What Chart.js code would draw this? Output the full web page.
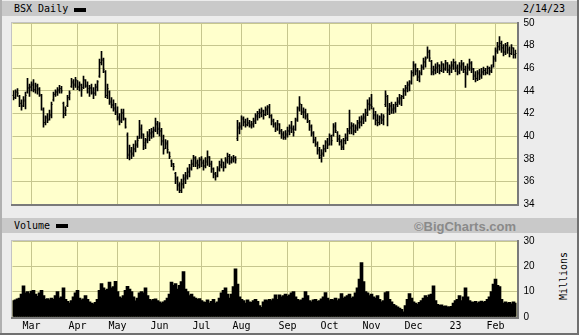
<!DOCTYPE html>
<html><head><meta charset="utf-8">
<script src="https://cdn.jsdelivr.net/npm/chart.js@4/dist/chart.umd.min.js"></script>
<style>
html,body{margin:0;padding:0;background:#fff;}
#frame{position:absolute;left:0;top:0;width:579px;height:335px;background:#ececec;overflow:hidden;}
#edgeL{position:absolute;left:0;top:0;width:2px;height:335px;background:#b0b0b0;}
#edgeR{position:absolute;left:577px;top:0;width:2px;height:335px;background:#707070;}
#edgeB{position:absolute;left:0;top:333px;width:579px;height:2px;background:#707070;}
.band{position:absolute;left:2px;width:575px;height:15px;background:#c9c9c9;}
.mono{font-family:"DejaVu Sans Mono","Liberation Mono",monospace;font-size:10px;color:#000;position:absolute;white-space:nowrap;}
.sw{position:absolute;width:12px;height:4px;background:#000;}
#bc{position:absolute;right:63px;top:219px;font-family:"Liberation Sans",Arial,sans-serif;font-weight:bold;font-size:13px;color:#8a8a8a;}
#mil{position:absolute;left:563px;top:276px;transform:translate(-50%,-50%) rotate(-90deg);}
canvas{position:absolute;}
</style></head>
<body>
<div id="frame">
  <div class="band" style="top:1px;"></div>
  <div class="mono" style="left:14px;top:3px;">BSX Daily</div>
  <div class="sw" style="left:74px;top:8px;"></div>
  <div class="mono" style="left:523px;top:3px;">2/14/23</div>
  <div class="band" style="top:218px;"></div>
  <div class="mono" style="left:14px;top:220px;">Volume</div>
  <div class="sw" style="left:56px;top:224px;"></div>
  <div id="bc">©BigCharts.com</div>
  <div class="mono" id="mil">Millions</div>
  <div id="priceWrap" style="position:absolute;left:0;top:10px;width:579px;height:207px;"><canvas id="price"></canvas></div>
  <div id="volWrap" style="position:absolute;left:0;top:228px;width:579px;height:105px;"><canvas id="vol"></canvas></div>
  <div id="edgeL"></div><div id="edgeR"></div><div id="edgeB"></div>
</div>
<script>
// ---- calendar (NYSE trading days 2/14/22 .. 2/14/23) ----
const holidays = ['2022-02-21','2022-04-15','2022-05-30','2022-06-20','2022-07-04','2022-09-05','2022-11-24','2022-12-26','2023-01-02','2023-01-16'];
const monthTickLabels = ['Mar','Apr','May','Jun','Jul','Aug','Sep','Oct','Nov','Dec','23','Feb'];
const priceTicks = [34,36,38,40,42,44,46,48,50];
const volumeTicks = [0,10,20,30];

// ---- price data (USD) ----
const high = [44.0,44.1,44.2,43.6,43.2,43.5,43.9,45.1,44.6,44.8,45.0,44.7,44.6,44.3,43.7,42.5,41.8,42.0,42.3,43.0,
43.9,44.1,44.3,44.5,44.4,43.0,42.6,43.6,44.0,45.1,45.0,45.2,44.9,44.8,44.6,45.3,45.0,44.8,44.5,44.6,
44.3,44.6,44.9,46.8,47.5,46.9,45.8,44.6,44.0,43.4,43.2,42.9,42.6,42.0,42.4,42.4,41.6,40.3,39.2,39.0,
39.3,39.6,40.0,41.4,41.0,40.2,39.8,40.4,40.6,40.7,40.8,41.6,41.3,41.2,40.7,40.1,39.7,39.6,38.6,37.9,
37.6,36.8,36.4,35.9,36.2,36.6,36.8,37.2,37.5,37.9,38.3,38.2,37.9,38.1,38.2,37.9,38.1,38.7,38.2,37.8,
37.2,36.8,37.3,37.8,38.0,37.7,38.1,38.5,38.4,38.2,38.3,38.2,41.4,41.2,41.8,41.7,41.5,41.6,41.4,41.3,
41.6,42.0,42.2,42.4,42.5,42.3,42.6,42.7,42.8,41.9,41.5,41.2,41.4,41.1,40.6,40.4,40.5,40.8,41.0,41.3,
40.9,41.6,42.6,43.5,42.8,42.5,42.4,42.0,41.4,41.0,40.4,39.9,39.5,39.0,38.8,39.2,39.6,39.8,40.2,40.1,
41.1,41.2,40.4,40.1,39.7,39.8,40.2,40.7,42.3,41.2,41.1,41.0,41.4,41.7,41.8,42.0,42.4,43.2,43.4,43.7,
42.5,42.2,41.9,41.8,42.0,41.9,44.0,43.6,42.9,43.0,42.8,43.0,43.4,43.7,43.6,44.2,44.5,44.8,44.9,45.8,
46.6,46.4,46.0,45.8,46.3,46.9,47.0,47.9,47.6,46.7,46.2,46.4,46.5,46.3,46.6,46.4,46.7,46.5,46.3,46.6,
46.8,46.6,46.3,46.5,46.7,46.5,46.2,46.4,46.8,46.6,46.0,45.7,45.8,45.9,46.0,46.1,46.0,46.2,46.1,46.3,
47.1,47.8,48.3,48.8,48.4,48.1,48.2,48.3,47.9,48.1,47.8,47.6];
const low = [43.2,43.3,43.5,42.6,42.3,42.6,42.4,43.8,43.5,44.0,43.9,43.8,43.7,43.5,42.3,40.8,41.0,41.2,41.4,41.6,
43.1,43.5,43.6,43.8,43.8,41.6,41.8,42.6,43.2,44.3,44.1,44.3,44.1,44.0,43.5,44.2,44.3,43.8,43.5,43.7,
43.3,43.6,44.0,45.2,46.3,45.6,43.4,43.3,42.8,42.5,42.2,41.9,41.4,41.0,41.2,41.4,40.7,38.0,37.9,38.0,
38.2,38.6,39.0,39.8,39.8,38.8,38.9,39.4,39.6,39.8,39.9,40.4,40.2,40.0,39.2,38.4,38.9,38.5,38.0,37.3,
37.0,35.8,35.2,35.0,35.0,35.4,35.8,36.2,36.4,37.0,37.3,37.3,37.1,37.2,37.3,37.0,37.2,37.4,37.3,36.8,
36.3,36.1,36.4,36.9,37.2,36.9,37.2,37.6,37.5,37.6,37.7,37.6,39.6,40.2,40.6,40.9,40.8,40.9,40.8,40.7,
40.8,41.1,41.4,41.6,41.7,41.5,41.8,41.9,41.6,41.0,40.8,40.4,40.5,40.2,39.8,39.7,39.7,39.9,40.1,40.3,
40.0,40.5,41.3,42.2,41.9,41.6,41.5,41.2,40.5,40.0,39.4,39.1,38.4,38.0,37.7,38.2,38.6,38.9,39.2,39.2,
40.0,40.3,39.5,39.2,38.8,38.8,39.3,39.6,40.2,40.2,40.1,40.3,40.5,40.7,40.9,41.1,41.3,41.8,42.3,42.4,
41.5,41.0,40.9,41.0,41.1,41.0,42.6,40.9,41.9,42.0,42.0,42.1,42.6,42.8,42.7,43.3,43.6,43.9,44.0,44.6,
45.3,45.4,44.9,44.8,45.4,45.9,46.1,46.9,46.6,45.4,45.4,45.5,45.6,45.5,45.7,45.6,45.8,45.6,45.4,45.6,
45.9,45.7,45.4,45.5,45.8,45.6,44.3,45.4,45.8,45.6,45.0,44.8,44.9,45.0,45.1,45.4,45.4,45.5,45.4,45.6,
46.1,46.6,47.3,47.6,47.4,47.1,47.2,47.3,47.0,47.2,46.9,46.9];
const open = [43.6,43.4,43.9,43.5,42.9,42.7,43.1,43.9,44.2,44.3,44.6,44.1,44.4,44.1,43.6,42.3,41.2,41.7,41.5,41.9,
43.2,43.7,43.9,44.0,44.2,42.9,42.0,42.7,43.4,44.4,44.7,44.5,44.9,44.3,44.5,44.3,44.9,44.4,43.9,44.2,
43.8,43.8,44.3,45.3,46.5,46.7,45.7,43.6,43.9,43.1,42.8,42.5,42.2,41.7,41.4,42.1,41.5,40.1,38.3,38.7,
38.4,38.8,39.3,39.8,40.7,40.1,39.2,39.7,40.0,40.2,40.3,40.6,41.0,40.7,40.5,39.6,38.9,39.4,38.6,37.8,
37.5,36.7,36.3,35.7,35.2,35.7,36.2,36.4,36.8,37.1,37.5,38.1,37.7,37.4,37.9,37.7,37.3,37.7,38.2,37.6,
37.1,36.7,36.5,37.0,37.4,37.7,37.3,37.8,38.2,37.7,37.9,38.1,39.8,40.7,40.8,41.6,41.3,41.0,41.2,40.9,
41.0,41.3,41.7,42.0,42.0,42.2,41.9,42.3,42.6,41.8,41.4,41.0,40.6,41.0,40.5,40.2,39.9,40.1,40.4,40.8,
40.7,40.6,41.5,42.5,42.8,42.1,42.2,41.8,41.3,40.9,40.3,39.6,39.3,38.8,38.1,38.4,38.8,39.5,39.3,40.0,
40.1,40.9,40.3,39.8,39.5,39.0,39.6,39.8,40.5,40.7,40.9,40.4,40.7,41.1,41.2,41.5,41.6,42.0,42.9,42.8,
42.4,41.9,41.4,41.2,41.7,41.4,42.8,43.5,42.3,42.7,42.3,42.4,42.8,43.0,43.3,43.5,44.0,44.2,44.5,44.8,
45.6,46.3,45.8,45.2,45.6,46.1,46.5,46.9,47.5,46.6,45.6,45.8,46.0,46.3,45.8,46.4,45.9,46.5,45.8,46.0,
46.2,46.5,46.1,45.6,46.1,46.3,45.9,45.5,46.0,46.4,45.9,45.4,45.1,45.6,45.3,45.6,45.8,45.6,46.0,45.8,
46.3,46.8,47.6,47.9,48.2,47.8,47.4,48.0,47.7,47.3,47.8,47.2];
const close = [43.4,43.9,43.8,42.9,42.6,43.2,43.6,44.3,44.4,44.5,44.1,44.5,44.2,43.7,42.4,41.2,41.6,41.4,41.8,42.8,
43.7,43.9,44.1,44.2,44.0,42.0,42.3,43.4,43.8,44.8,44.6,45.0,44.4,44.6,44.1,45.0,44.5,44.2,44.3,43.9,
43.8,44.4,44.8,46.5,46.8,45.9,43.6,44.2,43.0,42.7,42.4,42.1,41.6,41.3,42.0,41.6,40.8,38.4,38.6,38.5,
38.9,39.2,39.6,40.6,40.2,39.4,39.6,40.1,40.3,40.4,40.5,41.1,40.6,40.4,39.5,38.8,39.3,38.8,38.2,37.6,
37.3,36.2,35.6,35.2,35.8,36.3,36.5,36.9,37.2,37.6,38.0,37.6,37.5,37.9,37.6,37.4,37.8,38.1,37.5,37.1,
36.6,36.4,37.1,37.5,37.8,37.2,37.9,38.2,37.8,38.0,38.1,37.9,40.8,40.9,41.5,41.2,41.0,41.1,41.0,41.1,
41.4,41.8,42.0,42.1,42.3,41.9,42.4,42.5,41.8,41.3,41.1,40.7,41.1,40.4,40.1,39.9,40.2,40.5,40.7,40.6,
40.3,41.4,42.4,42.9,42.2,42.1,41.7,41.5,40.8,40.2,39.7,39.3,38.7,38.3,38.5,38.9,39.4,39.2,40.0,39.6,
40.8,40.5,39.7,39.5,39.1,39.6,39.9,40.4,40.8,40.9,40.5,40.8,41.2,41.3,41.6,41.7,42.1,42.8,42.7,42.6,
41.8,41.4,41.2,41.6,41.5,41.7,43.7,42.4,42.6,42.4,42.5,42.8,43.1,43.4,43.5,44.0,44.3,44.6,44.7,45.6,
46.2,45.7,45.3,45.5,46.1,46.6,46.8,47.4,46.9,45.7,45.9,46.1,46.2,45.8,46.3,46.0,46.4,45.9,46.1,46.3,
46.5,46.0,45.7,46.2,46.4,45.9,45.6,46.1,46.5,46.0,45.3,45.1,45.5,45.4,45.7,45.8,45.6,46.0,45.7,46.1,
46.9,47.5,47.9,48.2,47.8,47.5,48.0,47.6,47.3,47.8,47.2,47.3];
// ---- volume (millions of shares) ----
const volume = [6.5,6.8,7.2,7.5,9,12.3,9.5,10,9.2,10.2,10.5,9,8.2,9.5,10.5,8.5,7,7.3,6.8,7.5,
7,8.5,10,7.5,8,11.5,7,6.2,5.5,6.5,8,9.5,10.5,7.5,6.8,7.2,8.5,7,6,5.5,
5.2,5.8,7,10.5,13.2,11.5,10.5,11,13.8,11.5,12,14.1,10,8,7.5,8.5,10.5,12.1,11,10,
8,6.4,7.5,9.5,10,9.5,11.5,8.5,7,6.5,7,7.2,6.5,6,5.5,6,6.5,7.5,9,13.8,
12.5,13.2,11,12.5,14,17.9,11,10,8.5,9,8,7.5,7,7.3,6.5,6,5.8,6.8,5.5,6.2,
7,5.5,6,7.5,9.5,10.5,11.5,9,7.5,9,12,19,13,8,7,6.5,5.5,6.8,6,5.8,
6.5,7,6.2,4.5,3.8,6,6.8,6.5,7,6.5,7.2,8.8,7,8.8,8,8.5,9,8.2,8.8,9.5,
10,8,7,6.5,6.8,7.5,10,8.5,6.5,6,6.8,7,6.2,6.5,7.2,8,9.6,7.5,6.5,7,
6.8,7.5,6.5,7.2,9.2,7.5,8,8.5,9,7.5,8,9.5,11.5,15,21.5,14,10,9.5,8.5,9,
8,7.5,8.5,7,6,6.5,9.6,10,7,6,5,4.5,4,3.5,3,2,4.5,7,9.2,7.5,
6,5.5,5,5.8,6.5,7.5,8.5,7.8,8.8,9,12.3,6.5,5,4.6,4.8,4.2,4.4,4,4,4.2,
5.5,6.5,7,8.5,6.5,8,11.5,8,6.5,6,5.8,6.2,5.5,6,6.3,5.8,6.2,7,8,10,
13,15,12.5,12,7,5.5,6,5.5,5.8,5.2,6,5.5];

// trading-day labels
const holidaySet = new Set(holidays);
const dates = [];
for (let d = new Date(Date.UTC(2022,1,14)); d <= new Date(Date.UTC(2023,1,14)); d.setUTCDate(d.getUTCDate()+1)) {
  const wd = d.getUTCDay();
  const iso = d.toISOString().slice(0,10);
  if (wd === 0 || wd === 6 || holidaySet.has(iso)) continue;
  dates.push(iso);
}
const monthStarts = [];
for (let i = 1; i < dates.length; i++) if (dates[i].slice(5,7) !== dates[i-1].slice(5,7)) monthStarts.push(i);

const GRID = '#c6c68e';
const BG = '#ffffcc';
const tickFont = {family:'"Liberation Sans", Arial, sans-serif', size:10};
const monoFont = {family:'"DejaVu Sans Mono", "Liberation Mono", monospace', size:10};

const plotFrame = {
  id:'plotFrame',
  beforeDraw(chart){
    const a = chart.chartArea, c = chart.ctx;
    const L = Math.floor(a.left), T = Math.round(a.top), R = Math.ceil(a.right), B = Math.round(a.bottom);
    c.save(); c.fillStyle = BG; c.fillRect(L, T, R-L, B-T); c.restore();
  },
  afterDraw(chart){
    const a = chart.chartArea, c = chart.ctx;
    const L = Math.floor(a.left), T = Math.round(a.top), R = Math.ceil(a.right), B = Math.round(a.bottom);
    c.save();
    c.fillStyle = '#c4c4c4';
    c.fillRect(L-1, T-1, R-L+1, 1);
    c.fillRect(L-1, T-1, 1, B-T+1);
    c.fillStyle = '#7a7a7a';
    c.fillRect(R, T-1, 2, B-T+3);
    c.fillRect(L-1, B, R-L+3, 2);
    c.restore();
  }
};

function monthX(showLabels){
  return {
    type:'category',
    offset:true,
    afterBuildTicks(scale){ scale.ticks = monthStarts.map(i => ({value: i - 1})); },
    ticks:{autoSkip:false, maxRotation:0, display:showLabels, padding:3, color:'#000', font:monoFont,
      callback:(v, idx) => monthTickLabels[idx]},
    grid:{color:GRID, offset:false, drawTicks:false, lineWidth:1},
    border:{display:false},
    afterFit(scale){ scale.height = showLabels ? 16 : 0; }
  };
}

new Chart(document.getElementById('price'), {
  type:'bar',
  data:{
    labels:dates,
    datasets:[
      {type:'bar', data:low.map((l,i)=>[l, high[i]]), backgroundColor:'#000', borderWidth:0, barThickness:1, order:3},
      {type:'line', data:close, showLine:false, pointStyle:'dash', pointRadius:1, pointBorderColor:'#000', pointBorderWidth:1, pointBackgroundColor:'#000', order:1},
      {type:'line', data:open, showLine:false, pointStyle:'dash', rotation:180, pointRadius:1, pointBorderColor:'#000', pointBorderWidth:1, pointBackgroundColor:'#000', order:2}
    ]
  },
  options:{
    responsive:true, maintainAspectRatio:false, animation:false, events:[],
    layout:{padding:{left:12.5, top:13, bottom:10, right:0}},
    plugins:{legend:{display:false}, tooltip:{enabled:false}},
    scales:{
      x: monthX(false),
      y:{position:'right', min:34, max:50,
        afterBuildTicks(scale){ scale.ticks = priceTicks.map(v => ({value:v})); },
        ticks:{color:'#000', font:tickFont, padding:7},
        grid:{color:GRID, drawTicks:false}, border:{display:false},
        afterFit(scale){ scale.width = 62.5; }}
    }
  },
  plugins:[plotFrame]
});

new Chart(document.getElementById('vol'), {
  type:'bar',
  data:{labels:dates, datasets:[{data:volume, backgroundColor:'#000', borderWidth:0, barThickness:3}]},
  options:{
    responsive:true, maintainAspectRatio:false, animation:false, events:[],
    layout:{padding:{left:12.5, top:11, bottom:0, right:0}},
    plugins:{legend:{display:false}, tooltip:{enabled:false}},
    scales:{
      x: monthX(true),
      y:{position:'right', min:0, max:30,
        afterBuildTicks(scale){ scale.ticks = volumeTicks.map(v => ({value:v})); },
        ticks:{color:'#000', font:tickFont, padding:7},
        grid:{color:GRID, drawTicks:false}, border:{display:false},
        afterFit(scale){ scale.width = 62.5; }}
    }
  },
  plugins:[plotFrame]
});
</script>
</body></html>
